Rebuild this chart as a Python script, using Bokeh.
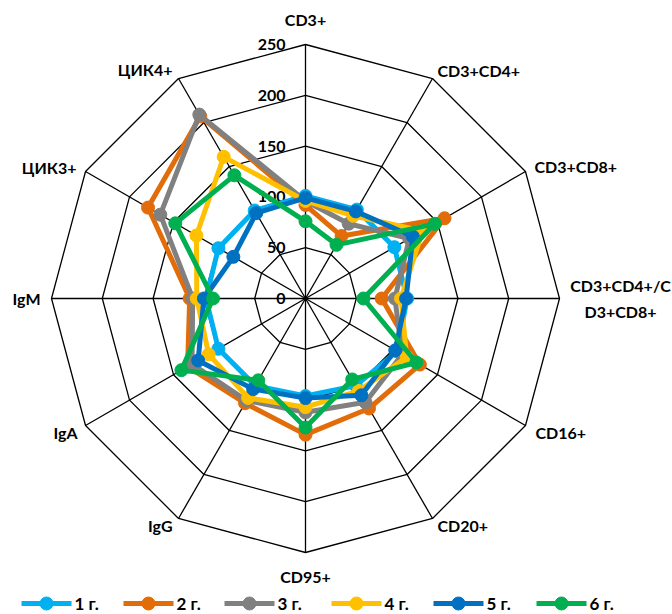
import numpy as np
from bokeh.plotting import figure
from bokeh.models import Range1d
from bokeh.core.properties import value
from bokeh.embed import file_html
from bokeh.resources import INLINE

# Axis categories (clockwise from the top)
categories = ["CD3+", "CD3+CD4+", "CD3+CD8+", "CD3+CD4+/C\nD3+CD8+", "CD16+", "CD20+",
              "CD95+", "IgG", "IgA", "IgM", "ЦИК3+", "ЦИК4+"]

# Series values, one per category
year1 = [101, 101, 101, 100, 104, 99, 96, 99, 99, 98, 99, 100]
year2 = [92, 71, 158, 75, 130, 125, 134, 119, 134, 114, 179, 207]
year3 = [96, 85, 118, 88, 110, 118, 112, 116, 129, 111, 165, 209]
year4 = [96, 94, 133, 94, 115, 105, 107, 113, 110, 107, 124, 161]
year5 = [99, 99, 122, 99, 102, 110, 98, 103, 122, 100, 82, 97]
year6 = [76, 61, 147, 57, 126, 92, 127, 93, 141, 91, 148, 140]

series_names = ["1 г.", "2 г.", "3 г.", "4 г.", "5 г.", "6 г."]
series_values = [year1, year2, year3, year4, year5, year6]
series_colors = ["#00B0F0", "#E36C0A", "#808080", "#FFC000", "#0070C0", "#00B050"]

ticks = [0, 50, 100, 150, 200, 250]
r_max = 250

W, H = 672, 614
cx, cy = 305, 298          # chart centre in screen pixels
R = 254                    # pixel radius of the outer ring
FONT = "Lato"

p = figure(width=W, height=H, x_range=Range1d(0, W), y_range=Range1d(H, 0),
           output_backend="svg", toolbar_location=None, min_border=0)
p.axis.visible = False
p.grid.visible = False
p.outline_line_color = None
p.background_fill_color = "white"
p.border_fill_color = "white"

n = len(categories)
ang = np.arange(n) * 2 * np.pi / n


def to_xy(vals):
    r = np.asarray(vals, dtype=float) / r_max * R
    return cx + r * np.sin(ang), cy - r * np.cos(ang)


# web grid: rings and spokes
for t in ticks[1:]:
    gx, gy = to_xy([t] * n)
    p.line(list(gx) + [gx[0]], list(gy) + [gy[0]], line_color="black", line_width=1.3)
ox, oy = to_xy([r_max] * n)
for i in range(n):
    p.line([cx, ox[i]], [cy, oy[i]], line_color="black", line_width=1.3)

# radial tick labels
for t in ticks:
    ty = cy - t / r_max * R
    p.text([cx - 20], [ty], text=[str(t)], text_align="right", text_baseline="middle",
           text_font=value(FONT), text_font_style="bold", text_font_size="16px",
           text_color="black")

# category labels
label_pos = [
    (305, 19, "center"), (437, 70, "left"), (534, 166, "left"), (620, 298, "center"),
    (535, 432, "left"), (437, 525, "left"), (305, 576, "center"), (172, 525, "right"),
    (77, 432, "right"), (40, 298, "right"), (76, 167, "right"), (172, 69, "right"),
]
for cat, (lx, ly, al) in zip(categories, label_pos):
    p.text([lx], [ly], text=[cat], text_align=al, text_baseline="middle",
           text_font=value(FONT), text_font_style="bold", text_font_size="16px",
           text_color="black", text_line_height=1.4)

# data series
for name, vals, col in zip(series_names, series_values, series_colors):
    sx, sy = to_xy(vals)
    p.line(list(sx) + [sx[0]], list(sy) + [sy[0]], line_color=col, line_width=5,
           line_join="round")
    p.scatter(sx, sy, size=13, fill_color=col, line_color=col, marker="circle")

# legend row
leg_y = 603
leg_starts = [21, 123, 224, 331, 433, 536]
for name, col, x0 in zip(series_names, series_colors, leg_starts):
    p.line([x0, x0 + 50], [leg_y, leg_y], line_color=col, line_width=5)
    p.scatter([x0 + 25], [leg_y], size=13, fill_color=col, line_color=col, marker="circle")
    p.text([x0 + 53], [leg_y], text=[name], text_align="left", text_baseline="middle",
           text_font=value(FONT), text_font_style="bold", text_font_size="17px",
           text_color="black")

open("out.html", "w").write(file_html(p, INLINE))
